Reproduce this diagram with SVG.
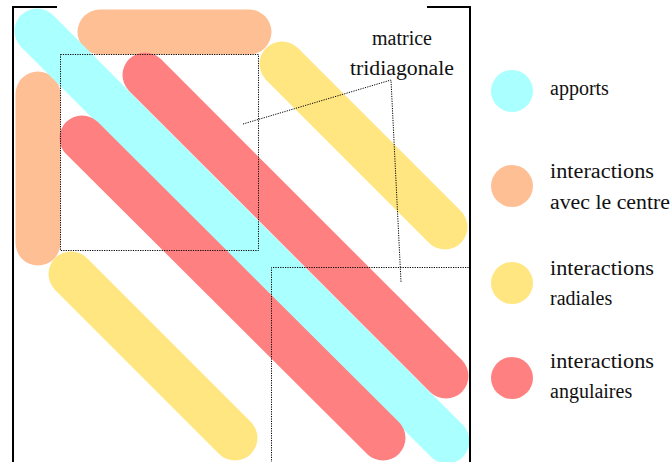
<svg xmlns="http://www.w3.org/2000/svg" width="672" height="462" viewBox="0 0 672 462">
<style>
.band{stroke-width:45;stroke-linecap:round;fill:none}
.cyan{stroke:#aaffff}.orange{stroke:#ffbf95}.yellow{stroke:#ffe680}.red{stroke:#ff8080}
.dot{fill:none;stroke:#000;stroke-width:1;stroke-dasharray:1.2 1.2}
.br{fill:none;stroke:#000;stroke-width:2}
.t{font-family:'Liberation Serif', 'Times New Roman', serif;font-size:20px;fill:#111}
</style>
<rect width="672" height="462" fill="#fff"/>
<g id="matrix">
<line class="band orange" x1="100" y1="32" x2="249" y2="32"/>
<line class="band orange" x1="38" y1="94" x2="38" y2="243"/>
<line class="band cyan" x1="37" y1="31" x2="447" y2="441"/>
<line class="band yellow" x1="282" y1="64" x2="445" y2="227"/>
<line class="band yellow" x1="71" y1="274" x2="235" y2="438"/>
<line class="band red" x1="145" y1="75" x2="446" y2="376"/>
<line class="band red" x1="82" y1="138" x2="383" y2="438"/>
<polyline class="br" points="57,7 13,7 13,463"/>
<polyline class="br" points="427,7 470,7 470,463"/>
</g>
<g id="blocks">
<rect class="dot" x="60.5" y="54.5" width="198" height="196"/>
<polyline class="dot" points="271.5,470 271.5,267.5 469.5,267.5 469.5,470"/>
</g>
<g id="connectors">
<polyline class="dot" points="243,124 391,80 401,282"/>
</g>
<g id="label" font-family="Liberation Serif, serif">
<text class="t" x="402" y="45" text-anchor="middle">matrice</text>
<text class="t" x="402" y="75" text-anchor="middle" textLength="104" lengthAdjust="spacingAndGlyphs">tridiagonale</text>
</g>
<g id="legend-apports" font-family="Liberation Serif, serif">
<circle cx="512" cy="91" r="21" fill="#aaffff"/>
<text class="t" x="550" y="95">apports</text>
</g>
<g id="legend-centre" font-family="Liberation Serif, serif">
<circle cx="512" cy="186" r="21" fill="#ffbf95"/>
<text class="t" x="550" y="178" textLength="104" lengthAdjust="spacingAndGlyphs">interactions</text>
<text class="t" x="550" y="209" textLength="120" lengthAdjust="spacingAndGlyphs">avec le centre</text>
</g>
<g id="legend-radiales" font-family="Liberation Serif, serif">
<circle cx="512" cy="283" r="21" fill="#ffe680"/>
<text class="t" x="550" y="275" textLength="104" lengthAdjust="spacingAndGlyphs">interactions</text>
<text class="t" x="550" y="305">radiales</text>
</g>
<g id="legend-angulaires" font-family="Liberation Serif, serif">
<circle cx="512" cy="378" r="21" fill="#ff8080"/>
<text class="t" x="550" y="368" textLength="104" lengthAdjust="spacingAndGlyphs">interactions</text>
<text class="t" x="550" y="398">angulaires</text>
</g>
</svg>
